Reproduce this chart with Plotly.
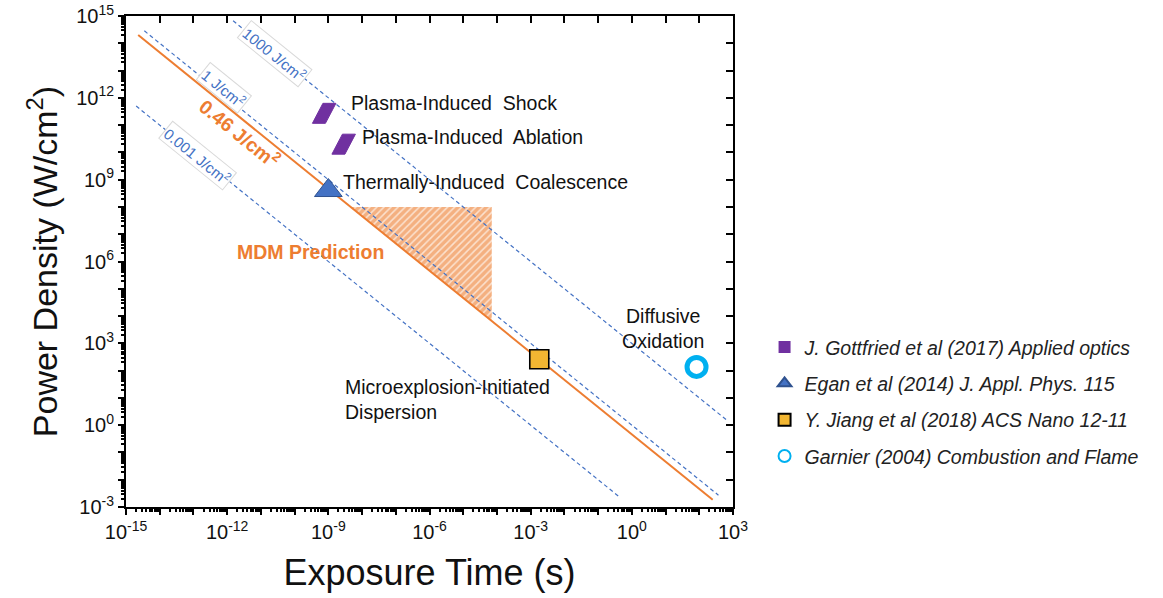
import numpy as np
import plotly.graph_objects as go

# ---------------- data ----------------
# constant-fluence lines (J/cm^2): P = E / t
dashed_E = [1000, 1, 0.001]
dashed_t_start = [1.5e-12, 3.5e-15, 2.0e-15]
dashed_t_end = [6.5e2, 3.7e2, 4.2e-1]
dashed_labels = ["1000 J/cm<sup>2</sup>", "1 J/cm<sup>2</sup>", "0.001 J/cm<sup>2</sup>"]
dashed_label_t = [2.5e-11, 7.8e-13, 1.32e-13]
dashed_label_P = [4.1e13, 2.4e12, 7.6e9]

mdm_E = 0.46
mdm_t = [2.3e-15, 2.5e2]
mdm_label = "0.46 J/cm<sup>2</sup>"
mdm_label_t, mdm_label_P = 2.4e-12, 5.1e10

# hatched MDM prediction region
hatch_P_top = 1.0e8
hatch_t_right = 7e-5

# experimental points
gott_t = [7.4e-10, 2.8e-9]
gott_P = [2.7e11, 2.0e10]
egan_t = [1.0e-9]
egan_P = [4.0e8]
jiang_t = [1.8e-3]
jiang_P = [2.6e2]
garnier_t = [83]
garnier_P = [137]

legend_names = [
    "J. Gottfried et al (2017) Applied optics",
    "Egan et al (2014) J. Appl. Phys. 115",
    "Y. Jiang et al (2018) ACS Nano 12-11",
    "Garnier (2004) Combustion and Flame",
]

# text labels (anchor positions in data coordinates)
text_labels = ["Plasma-Induced  Shock", "Plasma-Induced  Ablation",
               "Thermally-Induced  Coalescence",
               "Microexplosion-Initiated<br>Dispersion"]
text_t = [4.1e-9, 8.7e-9, 2.4e-9, 2.7e-9]
text_P = [6.5e11, 3.7e10, 8.2e8, 9.1]
diff_label, diff_t, diff_P = "Diffusive<br>Oxidation", 8.4, 3.5e3
mdm_pred_label, mdm_pred_t, mdm_pred_P = "MDM Prediction", 1.7e-12, 2.2e6

x_exp_range = [-15, 3]
y_exp_range = [-3, 15]

# ---------------- layout geometry ----------------
W, H = 1163, 598
ML, MR, MT, MB = 126, 430, 16, 91
px_per_dec_x = (W - ML - MR) / (x_exp_range[1] - x_exp_range[0])
px_per_dec_y = (H - MT - MB) / (y_exp_range[1] - y_exp_range[0])

ORANGE = "#ED7D31"
BLUE = "#4472C4"
PURPLE = "#7030A0"
FONT = "Liberation Sans, Arial, sans-serif"

fig = go.Figure()

# hatched region bounded by the MDM line
t_left = mdm_E / hatch_P_top
fig.add_trace(go.Scatter(
    x=[t_left, hatch_t_right, hatch_t_right, t_left],
    y=[hatch_P_top, hatch_P_top, mdm_E / hatch_t_right, hatch_P_top],
    mode="lines", line=dict(width=0), fill="toself",
    fillcolor="rgba(0,0,0,0)",
    fillpattern=dict(shape="/", fgcolor=ORANGE, bgcolor="#FBE2CF", size=5, solidity=0.7),
    showlegend=False, hoverinfo="skip"))

# dashed lines
for E, t0, t1 in zip(dashed_E, dashed_t_start, dashed_t_end):
    fig.add_trace(go.Scatter(
        x=[t0, t1], y=[E / t0, E / t1], mode="lines",
        line=dict(color=BLUE, width=1.2, dash="4px,3px"),
        showlegend=False, hoverinfo="skip"))

# MDM line
fig.add_trace(go.Scatter(
    x=mdm_t, y=[mdm_E / t for t in mdm_t], mode="lines",
    line=dict(color=ORANGE, width=2), showlegend=False, hoverinfo="skip"))

# parallelogram markers (Gottfried) drawn as filled polygons
dx_top = np.array([-1.0, 12.0, 1.5, -11.5, -1.0])
dy = np.array([10, 10, -10, -10, 10])
for t, P in zip(gott_t, gott_P):
    xs = [t * 10 ** (d / px_per_dec_x) for d in dx_top]
    ys = [P * 10 ** (d / px_per_dec_y) for d in dy]
    fig.add_trace(go.Scatter(x=xs, y=ys, mode="lines", fill="toself",
                             fillcolor=PURPLE, line=dict(color=PURPLE, width=1),
                             showlegend=False, hoverinfo="skip"))

lg = dict(family=FONT, size=19.5, color="#222222")
# legend entries
fig.add_trace(go.Scatter(x=[None], y=[None], mode="markers",
                         marker=dict(symbol="square", size=16, color=PURPLE),
                         name="<i>" + legend_names[0] + "</i>", legendgroup="a"))
fig.add_trace(go.Scatter(x=egan_t, y=egan_P, mode="markers",
                         marker=dict(symbol="triangle-up", size=24, color=BLUE,
                                     line=dict(color="#2F528F", width=1)),
                         name="<i>" + legend_names[1] + "</i>", legendgroup="b"))
fig.add_trace(go.Scatter(x=jiang_t, y=jiang_P, mode="markers",
                         marker=dict(symbol="square", size=19, color="#F2B632",
                                     line=dict(color="black", width=1.6)),
                         name="<i>" + legend_names[2] + "</i>", legendgroup="c"))
fig.add_trace(go.Scatter(x=garnier_t, y=garnier_P, mode="markers",
                         marker=dict(symbol="circle-open", size=19, color="#00B0F0",
                                     line=dict(color="#00B0F0", width=5)),
                         name="<i>" + legend_names[3] + "</i>", legendgroup="d"))

# dummy trace for mirrored axes
fig.add_trace(go.Scatter(x=[None], y=[None], xaxis="x2", yaxis="y2",
                         showlegend=False, hoverinfo="skip"))

# annotations
ann = []
for txt, t, P in zip(dashed_labels, dashed_label_t, dashed_label_P):
    ann.append(dict(x=np.log10(t), y=np.log10(P), text=txt, showarrow=False,
                    textangle=39, font=dict(family=FONT, size=15, color=BLUE),
                    bgcolor="white", bordercolor="#D9D9D9", borderwidth=1, borderpad=1))
ann.append(dict(x=np.log10(mdm_label_t), y=np.log10(mdm_label_P), text="<b>" + mdm_label + "</b>",
                showarrow=False, textangle=39, font=dict(family=FONT, size=19.5, color=ORANGE)))
for txt, t, P in zip(text_labels, text_t, text_P):
    ann.append(dict(x=np.log10(t), y=np.log10(P), text=txt, showarrow=False,
                    xanchor="left", align="left", font=dict(family=FONT, size=19.5, color="#111111")))
ann.append(dict(x=np.log10(diff_t), y=np.log10(diff_P), text=diff_label, showarrow=False,
                xanchor="center", align="center", font=dict(family=FONT, size=19.5, color="#111111")))
ann.append(dict(x=np.log10(mdm_pred_t), y=np.log10(mdm_pred_P), text="<b>" + mdm_pred_label + "</b>",
                showarrow=False, xanchor="left", font=dict(family=FONT, size=19.5, color=ORANGE)))

major_x = [10.0 ** k for k in range(x_exp_range[0], x_exp_range[1] + 1)]
major_y = [10.0 ** k for k in range(y_exp_range[0], y_exp_range[1] + 1)]
text_x = [f"10<sup>{k}</sup>" if k % 3 == 0 else "" for k in range(x_exp_range[0], x_exp_range[1] + 1)]
text_y = [f"10<sup>{k}</sup>" if k % 3 == 0 else "" for k in range(y_exp_range[0], y_exp_range[1] + 1)]
minor_x = [m * 10.0 ** k for k in range(x_exp_range[0], x_exp_range[1]) for m in range(2, 10)]
minor_y = [m * 10.0 ** k for k in range(y_exp_range[0], y_exp_range[1]) for m in range(2, 10)]

tickfont = dict(family=FONT, size=20, color="#111111")
fig.update_layout(
    width=W, height=H, margin=dict(l=ML, r=MR, t=MT, b=MB, autoexpand=False),
    paper_bgcolor="white", plot_bgcolor="white",
    annotations=ann,
    showlegend=True,
    legend=dict(x=1.052, xref="paper", xanchor="left", y=0.365, yanchor="top",
                font=lg, traceorder="grouped", tracegroupgap=8,
                bgcolor="rgba(0,0,0,0)", itemsizing="constant"),
    xaxis=dict(type="log", range=x_exp_range, tickmode="array", tickvals=major_x,
               ticktext=text_x, ticks="outside", ticklen=6, tickwidth=2, automargin=False,
               tickcolor="black", showline=True, linecolor="black", linewidth=2,
               showgrid=False, zeroline=False, tickfont=tickfont,
               minor=dict(tickmode="array", tickvals=minor_x, ticks="outside",
                          ticklen=3, tickwidth=1.5, tickcolor="black", showgrid=False),
               title=dict(text="Exposure Time (s)", font=dict(family=FONT, size=36, color="#111111"),
                          standoff=18)),
    yaxis=dict(type="log", range=y_exp_range, tickmode="array", tickvals=major_y,
               ticktext=text_y, ticks="outside", ticklen=6, tickwidth=2, automargin=False,
               tickcolor="black", showline=True, linecolor="black", linewidth=2,
               showgrid=False, zeroline=False, tickfont=tickfont,
               minor=dict(tickmode="array", tickvals=minor_y, ticks="outside",
                          ticklen=3, tickwidth=1.5, tickcolor="black", showgrid=False),
               title=dict(text="Power Density (W/cm<sup>2</sup>)",
                          font=dict(family=FONT, size=34, color="#111111"), standoff=8)),
    xaxis2=dict(type="log", range=x_exp_range, overlaying="x", side="top", anchor="y2",
                tickmode="array", tickvals=major_x, ticks="inside", ticklen=7, tickwidth=2,
                automargin=False,
                tickcolor="black", showticklabels=False, showline=True, linecolor="black",
                linewidth=2, showgrid=False, zeroline=False),
    yaxis2=dict(type="log", range=y_exp_range, overlaying="y", side="right", anchor="x2",
                tickmode="array", tickvals=major_y, ticks="inside", ticklen=7, tickwidth=2,
                automargin=False,
                tickcolor="black", showticklabels=False, showline=True, linecolor="black",
                linewidth=2, showgrid=False, zeroline=False),
)

fig.write_html("out.html")
